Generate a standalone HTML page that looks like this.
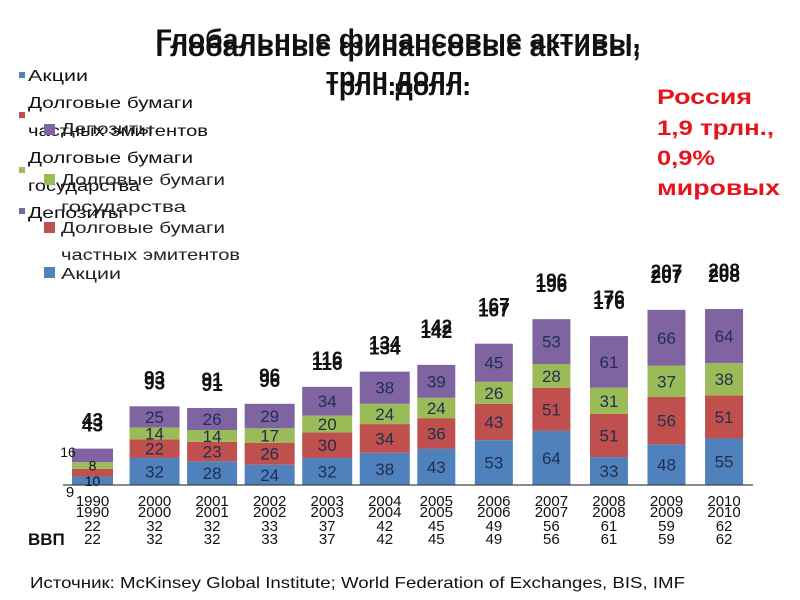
<!DOCTYPE html>
<html><head><meta charset="utf-8"><style>
body{margin:0;background:#fff}
svg{display:block;font-family:"Liberation Sans","DejaVu Sans",sans-serif}
</style></head><body>
<svg id="c" width="800" height="600" viewBox="0 0 800 600">
<g font-weight="bold" font-size="27" text-anchor="middle" fill="#111">
<text x="398" y="48" textLength="485" lengthAdjust="spacingAndGlyphs">Глобальные финансовые активы,</text>
<text x="398" y="56" textLength="485" lengthAdjust="spacingAndGlyphs">Глобальные финансовые активы,</text>
<text x="398" y="86">трлн.долл.</text>
<text x="398" y="95">трлн.долл.</text>
</g>
<g font-size="16" fill="#111">
<rect x="19" y="72" width="6" height="6" fill="#4f81bd"/><text x="28" y="81" textLength="60" lengthAdjust="spacingAndGlyphs">Акции</text>
<rect x="19" y="112" width="6" height="6" fill="#c0504d"/><text x="28" y="108" textLength="165" lengthAdjust="spacingAndGlyphs">Долговые бумаги</text><text x="28" y="136" textLength="180" lengthAdjust="spacingAndGlyphs">частных эмитентов</text>
<rect x="19" y="167" width="6" height="6" fill="#9bbb59"/><text x="28" y="163" textLength="165" lengthAdjust="spacingAndGlyphs">Долговые бумаги</text><text x="28" y="191" textLength="112" lengthAdjust="spacingAndGlyphs">государства</text>
<rect x="19" y="208" width="6" height="6" fill="#8064a2"/><text x="28" y="218" textLength="95" lengthAdjust="spacingAndGlyphs">Депозиты</text>
</g>
<g font-size="16" fill="#222">
<rect x="44" y="124" width="11" height="11" fill="#8064a2"/><text x="61" y="134" textLength="92" lengthAdjust="spacingAndGlyphs">Депозиты</text>
<rect x="44" y="174" width="11" height="11" fill="#9bbb59"/><text x="61" y="185" textLength="164" lengthAdjust="spacingAndGlyphs">Долговые бумаги</text><text x="61" y="212" textLength="125" lengthAdjust="spacingAndGlyphs">государства</text>
<rect x="44" y="222" width="11" height="11" fill="#c0504d"/><text x="61" y="233" textLength="164" lengthAdjust="spacingAndGlyphs">Долговые бумаги</text><text x="61" y="260" textLength="179" lengthAdjust="spacingAndGlyphs">частных эмитентов</text>
<rect x="44" y="267" width="11" height="11" fill="#4f81bd"/><text x="61" y="279" textLength="60" lengthAdjust="spacingAndGlyphs">Акции</text>
</g>
<g font-size="21" font-weight="bold" fill="#e8141b">
<text x="657" y="104" textLength="95" lengthAdjust="spacingAndGlyphs">Россия</text><text x="657" y="135" textLength="117" lengthAdjust="spacingAndGlyphs">1,9 трлн.,</text><text x="657" y="165" textLength="58" lengthAdjust="spacingAndGlyphs">0,9%</text><text x="657" y="195" textLength="123" lengthAdjust="spacingAndGlyphs">мировых</text>
</g>
<g id="bars"></g>
<line x1="63" y1="485" x2="753" y2="485" stroke="#444" stroke-width="1.2"/>
<g id="labels"></g>
<text x="28" y="545" font-size="17" font-weight="bold" fill="#111">ВВП</text>
<text x="30" y="588" font-size="16" fill="#111" textLength="655" lengthAdjust="spacingAndGlyphs">Источник:  McKinsey Global Institute; World Federation of Exchanges, BIS,  IMF</text>
</svg>
<script>
const years=["1990","2000","2001","2002","2003","2004","2005","2006","2007","2008","2009","2010"];
const stocks=[10,32,28,24,32,38,43,53,64,33,48,55];
const privDebt=[9,22,23,26,30,34,36,43,51,51,56,51];
const govDebt=[8,14,14,17,20,24,24,26,28,31,37,38];
const deposits=[16,25,26,29,34,38,39,45,53,61,66,64];
const totals=[43,93,91,96,116,134,142,167,196,176,207,208];
const gdp=[22,32,32,33,37,42,45,49,56,61,59,62];
const NS="http://www.w3.org/2000/svg";
const base=485, k=176/208;
function y(v){return base-v*k;}
function xLeft(i){return 72+i*57.55;}
function bw(i){return i===0?41:(i<=5?50:38);}
const series=[[stocks,"#4f81bd","stocks"],[privDebt,"#c0504d","private-debt"],[govDebt,"#9bbb59","gov-debt"],[deposits,"#8064a2","deposits"]];
const gb=document.getElementById("bars"), gl=document.getElementById("labels");
function txt(parent,x,yy,s,size,weight,anchor){
  const t=document.createElementNS(NS,"text");
  t.setAttribute("x",x);t.setAttribute("y",yy);t.setAttribute("font-size",size);
  t.setAttribute("text-anchor",anchor||"middle");t.setAttribute("fill","#111");
  if(weight)t.setAttribute("font-weight",weight);
  t.textContent=s;parent.appendChild(t);return t;
}
years.forEach((yr,i)=>{
  let cum=0;const x=xLeft(i),w=bw(i),cx=x+w/2;
  series.forEach(([arr,col,nm])=>{
    const v=arr[i];
    const r=document.createElementNS(NS,"rect");
    r.setAttribute("x",x);r.setAttribute("y",y(cum+v));r.setAttribute("width",w);r.setAttribute("height",v*k);r.setAttribute("fill",col);
    
    
    gb.appendChild(r);
    if(i>0){
      const t=txt(gl,cx,y(cum+v/2)+6,String(v),17,null);
      t.setAttribute("fill","#1f2f4f");
      
      
    }
    cum+=v;
  });
  if(i===0){
    const a=txt(gl,cx,y(stocks[0]/2)+5,"10",14);
    const b=txt(gl,70,497,"9",15);
    const c=txt(gl,cx,y(stocks[0]+privDebt[0]+govDebt[0]/2)+5,"8",14);
    const d=txt(gl,68,457,"16",14);
  }
  const ty=y(totals[i])-(i>=6?32:22);
  [0,5].forEach(off=>{
    const t=txt(gl,cx,ty+off,String(totals[i]),19,"bold");
    
    
  });
  [506,517].forEach(yy=>{
    const t=txt(gl,cx,yy,yr,15);
    
    
  });
  [531,544].forEach(yy=>{
    const t=txt(gl,cx,yy,String(gdp[i]),15);
    
    
  });
});
</script>
</body></html>
